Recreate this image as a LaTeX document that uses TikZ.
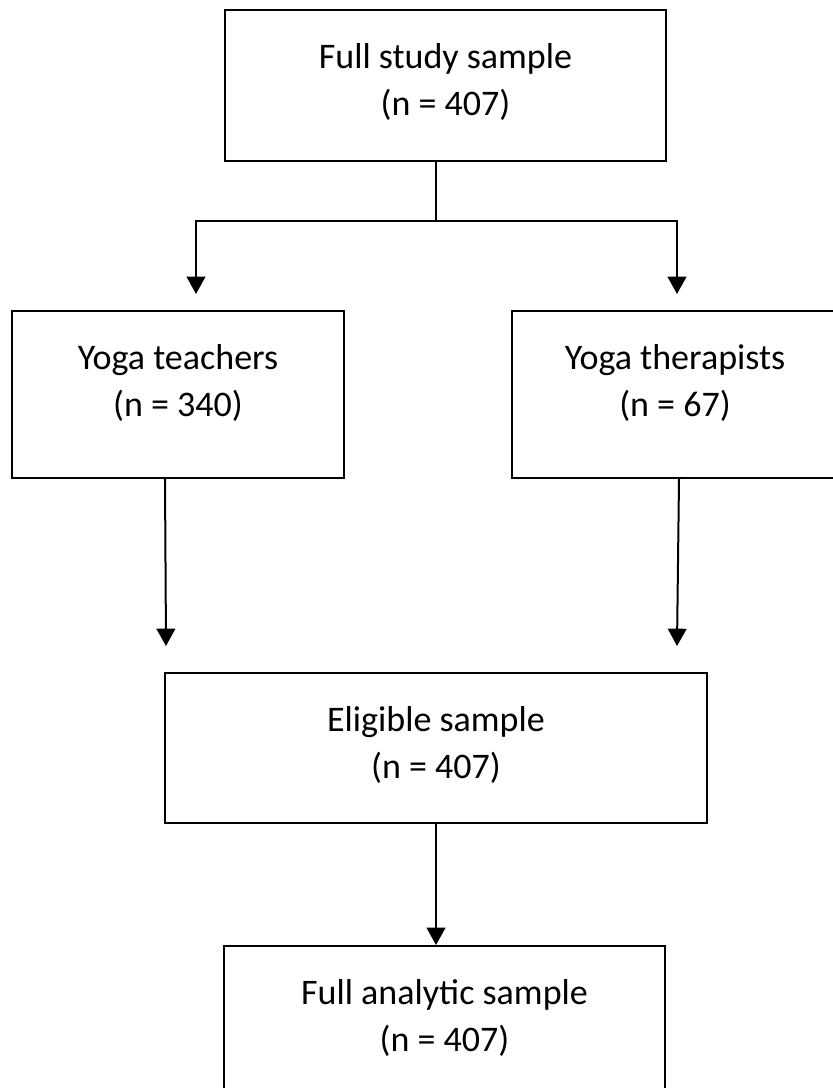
\documentclass[tikz,border=0pt]{standalone}
\usepackage{fontspec}
\setmainfont{Carlito}
\usepackage{tikz}
\usetikzlibrary{arrows.meta,positioning,calc}

\begin{document}
\begin{tikzpicture}[x=0.75pt, y=-0.75pt,
  samplebox/.style={draw, line width=1.5pt, inner sep=0pt},
  boxtext/.style={anchor=north, yshift=-25.5pt, align=center, inner sep=0pt, font=\fontsize{27}{35.25}\selectfont},
  flow/.style={line width=1.5pt},
  flowarrow/.style={flow, -{Triangle[width=14pt, length=13pt]}}]
  \useasboundingbox (0,0) rectangle (832,1088);

  % --- full sample ---
  \node[samplebox, minimum width=330.75pt, minimum height=113.25pt] (full) at (445.5,85.5) {};
  \node[boxtext] (full-t) at (full.north) {Full study sample\\(n = 407)};

  % --- teachers / therapists ---
  \node[samplebox, minimum width=249pt, minimum height=125.25pt] (teach) at (178,394.5) {};
  \node[boxtext] (teach-t) at (teach.north) {Yoga teachers\\(n = 340)};
  \node[samplebox, minimum width=244.5pt, minimum height=125.25pt] (ther) at (675,394.5) {};
  \node[boxtext] (ther-t) at (ther.north) {Yoga therapists\\(n = 67)};

  % --- eligible and analytic ---
  \node[samplebox, minimum width=406.5pt, minimum height=112.5pt] (elig) at (436,748) {};
  \node[boxtext] (elig-t) at (elig.north) {Eligible sample\\(n = 407)};
  \node[samplebox, minimum width=330.75pt, minimum height=113.25pt] (anal) at (444.5,1021.5) {};
  \node[boxtext] (anal-t) at (anal.north) {Full analytic sample\\(n = 407)};

  % split below the full sample
  \coordinate (split) at (436,221);
  \coordinate (teach-in) at (196,294);
  \coordinate (ther-in) at (677,294);
  \draw[flow] (split |- full.south) -- (split);
  \draw[flowarrow] (split) -| (teach-in);
  \draw[flowarrow] (split) -| (ther-in);

  % into the eligible sample
  \coordinate (teach-end) at (166,646);
  \coordinate (ther-end) at (677,646);
  \draw[flowarrow] ([xshift=-9.75pt]teach.south) -- (teach-end);
  \draw[flowarrow] ([xshift=3pt]ther.south) -- (ther-end);

  \draw[flowarrow] (elig.south) -- (elig.south |- anal.north);
\end{tikzpicture}
\end{document}
